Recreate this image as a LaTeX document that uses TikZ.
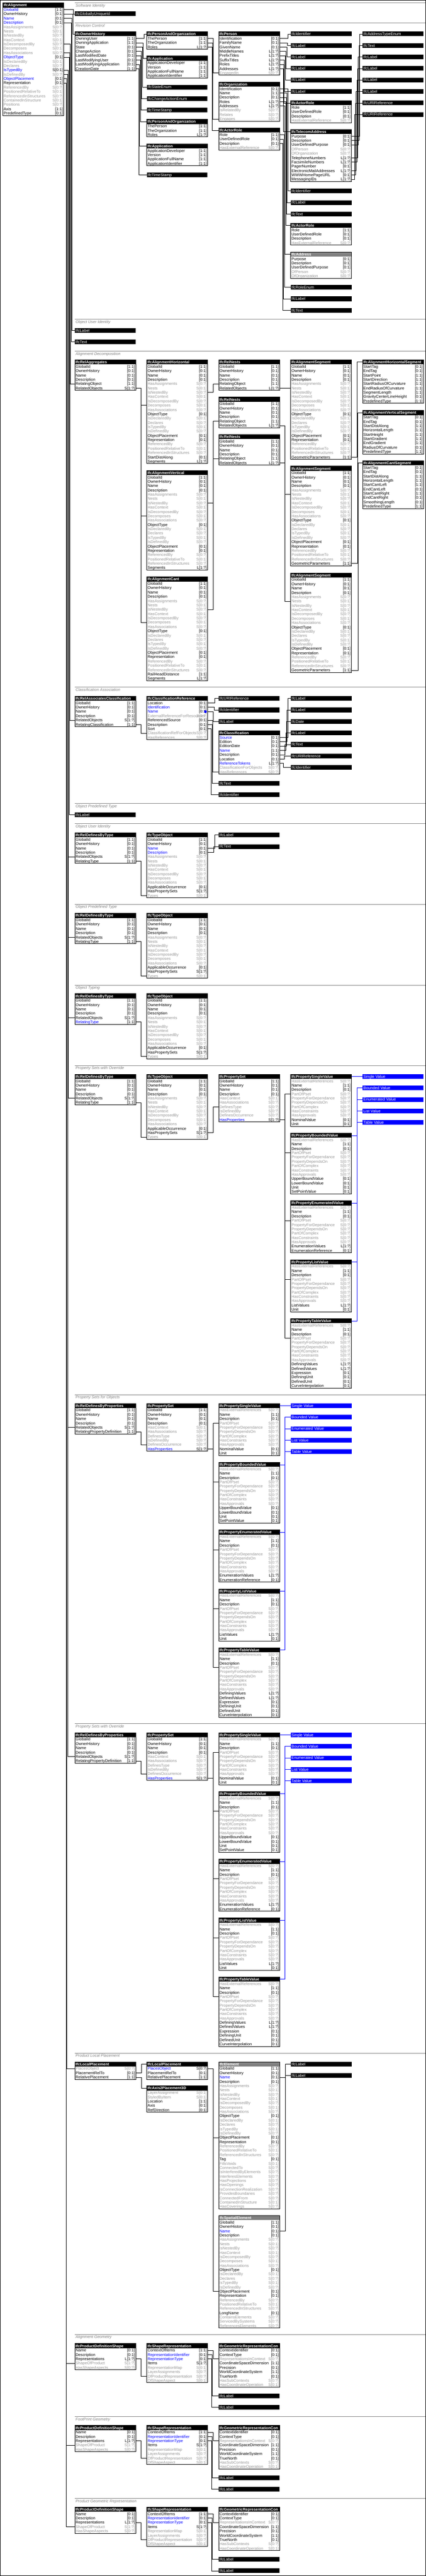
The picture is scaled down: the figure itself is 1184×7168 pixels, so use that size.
\documentclass[tikz,border=0pt]{standalone}
\usepackage{fontspec}
\setmainfont{Liberation Sans}
\definecolor{cN}{RGB}{0,0,0}
\definecolor{cG}{RGB}{150,150,150}
\definecolor{cB}{RGB}{0,0,255}
\definecolor{hG}{RGB}{128,128,128}
\definecolor{secG}{RGB}{128,128,128}
\colorlet{cardcN}{black}
\colorlet{cardcB}{black}
\colorlet{cardcG}{cG}
\tikzset{
  conn/.style={draw=black,line width=1pt},
  bconn/.style={draw=cB,line width=1pt},
  hdrbox/.style={anchor=north west,minimum width=169pt,minimum height=13pt,inner sep=0pt,outer sep=0pt,draw=none},
  rowbox/.style={anchor=north west,minimum width=169pt,minimum height=12pt,inner sep=0pt,outer sep=0pt,draw=none},
  hdrtext/.style={anchor=base west,inner sep=0pt,text=white,font=\fontsize{10.6}{12}\selectfont\bfseries},
  rowtext/.style={anchor=base west,inner sep=0pt,font=\fontsize{11}{12}\selectfont},
  cardtext/.style={anchor=base east,inner sep=0pt,font=\fontsize{11}{12}\selectfont},
  bartext/.style={anchor=base west,inner sep=0pt,text=white,font=\fontsize{11}{12}\selectfont},
  boxline/.style={draw=black,line width=1pt},
  secline/.style={draw=secG,line width=1pt},
  sectext/.style={anchor=base west,inner sep=0pt,text=secG,font=\fontsize{11}{12}\selectfont\itshape}
}
\newcommand\ebx[6]{%
  \node[hdrbox,fill=#5] (#1) at (#2,#3) {};%
  \node[hdrtext] (#1-t) at (#2+2,#3+10.5) {#4};%
  \edef\rowlist{#6}%
  \foreach \rn/\rc/\rk [count=\ri from 0] in \rowlist {%
    \edef\cc{card\rk}%
    \node[rowbox] (#1-\ri) at (#2,#3+13+12*\ri) {};%
    \node[rowtext,text=\rk] (#1-\ri-n) at (#2+2,#3+23+12*\ri) {\rn};%
    \node[cardtext,text=\cc] (#1-\ri-c) at (#2+167,#3+23+12*\ri) {\rc};%
    \xdef\lastrow{\ri}%
  }%
  \draw[boxline] (#2,#3) rectangle (#2+169,#3+25+12*\lastrow);%
}
\newcommand\tbr[5][black]{%
  \node[hdrbox,fill=#1] (#2) at (#3,#4) {};%
  \node[bartext] (#2-t) at (#3+2,#4+10.5) {#5};%
}
\newcommand\lnk[4][conn]{%
  \path (#3,0) coordinate (tx);%
  \draw[#1] (#2.east) -- (#2.east -| tx) |- (#4.west);%
}
\newcommand\bandsec[3]{%
  \draw[secline] (208,#2) -- (1184,#2);%
  \node[sectext] (#1) at (210,#2+11) {#3};%
}
\newcommand\stdA[2]{GlobalId/[1:1]/cN,OwnerHistory/[0:1]/cN,Name/[0:1]/#1,Description/[0:1]/#2,HasAssignments/S[0:?]/cG,Nests/S[0:1]/cG,IsNestedBy/S[0:?]/cG,HasContext/S[0:1]/cG,IsDecomposedBy/S[0:?]/cG,Decomposes/S[0:1]/cG,HasAssociations/S[0:?]/cG}
\newcommand\stdB{ObjectType/[0:1]/cN,IsDeclaredBy/S[0:1]/cG,Declares/S[0:?]/cG,IsTypedBy/S[0:1]/cG,IsDefinedBy/S[0:?]/cG,ObjectPlacement/[0:1]/cN,Representation/[0:1]/cN,ReferencedBy/S[0:?]/cG,PositionedRelativeTo/S[0:1]/cG,ReferencedInStructures/S[0:?]/cG}
\newcommand\relhead{GlobalId/[1:1]/cN,OwnerHistory/[0:1]/cN,Name/[0:1]/cN,Description/[0:1]/cN}
\newcommand\prophead{HasExternalReferences/S[0:?]/cG,Name/[1:1]/cN,Description/[0:1]/cN,PartOfPset/S[0:?]/cG,PropertyForDependance/S[0:?]/cG,PropertyDependsOn/S[0:?]/cG,PartOfComplex/S[0:?]/cG,HasConstraints/S[0:?]/cG,HasApprovals/S[0:?]/cG}
\newcommand\psetrows{GlobalId/[1:1]/cN,OwnerHistory/[0:1]/cN,Name/[0:1]/cN,Description/[0:1]/cN,HasContext/S[0:1]/cG,HasAssociations/S[0:?]/cG,DefinesType/S[0:?]/cG,IsDefinedBy/S[0:?]/cG,DefinesOccurrence/S[0:?]/cG,HasProperties/S[1:?]/cB}
\newcommand\typeobj[2]{GlobalId/[1:1]/cN,OwnerHistory/[0:1]/cN,Name/[0:1]/#1,Description/[0:1]/#2,HasAssignments/S[0:?]/cG,Nests/S[0:1]/cG,IsNestedBy/S[0:?]/cG,HasContext/S[0:1]/cG,IsDecomposedBy/S[0:?]/cG,Decomposes/S[0:1]/cG,HasAssociations/S[0:?]/cG,ApplicableOccurrence/[0:1]/cN,HasPropertySets/S[1:?]/cN,Types/S[0:1]/cG}
\newcommand\actorrows{Role/[1:1]/cN,UserDefinedRole/[0:1]/cN,Description/[0:1]/cN,HasExternalReference/S[0:?]/cG}
\newcommand\paorows{ThePerson/[1:1]/cN,TheOrganization/[1:1]/cN,Roles/L[1:?]/cN}
\newcommand\approws{ApplicationDeveloper/[1:1]/cN,Version/[1:1]/cN,ApplicationFullName/[1:1]/cN,ApplicationIdentifier/[1:1]/cN}
\newcommand\pgroup[5]{%
  \ebx{#1a}{#2}{#3}{IfcPropertySingleValue}{black}{\prophead,NominalValue/[0:1]/cN,Unit/[0:1]/cN}%
  \ebx{#1b}{#2}{#3+164}{IfcPropertyBoundedValue}{black}{\prophead,UpperBoundValue/[0:1]/cN,LowerBoundValue/[0:1]/cN,Unit/[0:1]/cN,SetPointValue/[0:1]/cN}%
  \ebx{#1c}{#2}{#3+352}{IfcPropertyEnumeratedValue}{black}{\prophead,EnumerationValues/L[1:?]/cN,EnumerationReference/[0:1]/cN}%
  \ebx{#1d}{#2}{#3+516}{IfcPropertyListValue}{black}{\prophead,ListValues/L[1:?]/cN,Unit/[0:1]/cN}%
  \ebx{#1e}{#2}{#3+680}{IfcPropertyTableValue}{black}{\prophead,DefiningValues/L[1:?]/cN,DefinedValues/L[1:?]/cN,Expression/[0:1]/cN,DefiningUnit/[0:1]/cN,DefinedUnit/[0:1]/cN,CurveInterpolation/[0:1]/cN}%
  \tbr[cB]{#1sa}{#2+200}{#3}{Single Value}%
  \tbr[cB]{#1sb}{#2+200}{#3+32}{Bounded Value}%
  \tbr[cB]{#1sc}{#2+200}{#3+64}{Enumerated Value}%
  \tbr[cB]{#1sd}{#2+200}{#3+96}{List Value}%
  \tbr[cB]{#1se}{#2+200}{#3+128}{Table Value}%
  \foreach \q in {a,b,c,d,e}{\lnk{#4}{#5}{#1\q-3}\lnk[bconn]{#1\q}{#2+184}{#1s\q}}%
}
\newcommand\geomsec[2]{%
  \ebx{#1p}{208}{#2}{IfcProductDefinitionShape}{black}{Name/[0:1]/cN,Description/[0:1]/cN,Representations/L[1:?]/cN,ShapeOfProduct/S[1:?]/cG,HasShapeAspects/S[0:?]/cG}%
  \ebx{#1s}{408}{#2}{IfcShapeRepresentation}{black}{ContextOfItems/[1:1]/cN,RepresentationIdentifier/[0:1]/cB,RepresentationType/[0:1]/cB,Items/S[1:?]/cN,RepresentationMap/S[0:1]/cG,LayerAssignments/S[0:?]/cG,OfProductRepresentation/S[0:?]/cG,OfShapeAspect/S[0:1]/cG}%
  \ebx{#1c}{608}{#2}{IfcGeometricRepresentationCon}{black}{ContextIdentifier/[0:1]/cN,ContextType/[0:1]/cN,RepresentationsInContext/S[0:?]/cG,CoordinateSpaceDimension/[1:1]/cN,Precision/[0:1]/cN,WorldCoordinateSystem/[1:1]/cN,TrueNorth/[0:1]/cN,HasSubContexts/S[0:?]/cG,HasCoordinateOperation/S[0:1]/cG}%
  \tbr{#1l1}{608}{#2+139}{IfcLabel}%
  \tbr{#1l2}{608}{#2+171}{IfcLabel}%
  \lnk{al-17}{184}{#1p-3}%
  \lnk{#1p-2}{392}{#1s-6}%
  \lnk{#1s-0}{592}{#1c-2}%
  \lnk{#1s-1}{590}{#1l1}%
  \lnk{#1s-2}{588}{#1l2}%
}
\begin{document}
\begin{tikzpicture}[x=1pt,y=-1pt]
\useasboundingbox (0,0) rectangle (1184,7168);
\fill[white] (0,0) rectangle (1184,7168);
% ---------------- main entity
\ebx{al}{8}{8}{IfcAlignment}{black}{GlobalId/[1:1]/cB,OwnerHistory/[0:1]/cN,Name/[0:1]/cB,Description/[0:1]/cB,HasAssignments/S[0:?]/cG,Nests/S[0:1]/cG,IsNestedBy/S[0:?]/cG,HasContext/S[0:1]/cG,IsDecomposedBy/S[0:?]/cG,Decomposes/S[0:1]/cG,HasAssociations/S[0:?]/cG,ObjectType/[0:1]/cB,IsDeclaredBy/S[0:1]/cG,Declares/S[0:?]/cG,IsTypedBy/S[0:1]/cB,IsDefinedBy/S[0:?]/cG,ObjectPlacement/[0:1]/cB,Representation/[0:1]/cN,ReferencedBy/S[0:?]/cG,PositionedRelativeTo/S[0:1]/cG,ReferencedInStructures/S[0:?]/cG,ContainedInStructure/S[0:1]/cG,Positions/S[0:?]/cG,Axis/[1:1]/cN,PredefinedType/[0:1]/cN}
% ---------------- Software Identity
\bandsec{s1}{8}{Software Identity}
\tbr{gid}{208}{32}{IfcGloballyUniqueId}
% ---------------- Revision Control
\bandsec{s2}{64}{Revision Control}
\ebx{oh}{208}{88}{IfcOwnerHistory}{black}{OwningUser/[1:1]/cN,OwningApplication/[1:1]/cN,State/[0:1]/cN,ChangeAction/[0:1]/cN,LastModifiedDate/[0:1]/cN,LastModifyingUser/[0:1]/cN,LastModifyingApplication/[0:1]/cN,CreationDate/[1:1]/cN}
\ebx{pao}{408}{88}{IfcPersonAndOrganization}{black}{\paorows}
\ebx{app}{408}{156}{IfcApplication}{black}{\approws}
\tbr{stenum}{408}{236}{IfcStateEnum}
\tbr{chenum}{408}{268}{IfcChangeActionEnum}
\tbr{tsa}{408}{300}{IfcTimeStamp}
\ebx{paob}{408}{332}{IfcPersonAndOrganization}{black}{\paorows}
\ebx{appb}{408}{400}{IfcApplication}{black}{\approws}
\tbr{tsb}{408}{480}{IfcTimeStamp}
\ebx{per}{608}{88}{IfcPerson}{black}{Identification/[0:1]/cN,FamilyName/[0:1]/cN,GivenName/[0:1]/cN,MiddleNames/L[1:?]/cN,PrefixTitles/L[1:?]/cN,SuffixTitles/L[1:?]/cN,Roles/L[1:?]/cN,Addresses/L[1:?]/cN,EngagedIn/S[0:?]/cG}
\ebx{org}{608}{228}{IfcOrganization}{black}{Identification/[0:1]/cN,Name/[1:1]/cN,Description/[0:1]/cN,Roles/L[1:?]/cN,Addresses/L[1:?]/cN,IsRelatedBy/S[0:?]/cG,Relates/S[0:?]/cG,Engages/S[0:?]/cG}
\ebx{ara}{608}{356}{IfcActorRole}{black}{\actorrows}
\tbr{pid}{808}{88}{IfcIdentifier}
\tbr{pla}{808}{120}{IfcLabel}
\tbr{plb}{808}{152}{IfcLabel}
\tbr{plc}{808}{184}{IfcLabel}
\tbr{pld}{808}{216}{IfcLabel}
\tbr{ple}{808}{248}{IfcLabel}
\ebx{arb}{808}{280}{IfcActorRole}{black}{\actorrows}
\ebx{ta}{808}{360}{IfcTelecomAddress}{black}{Purpose/[0:1]/cN,Description/[0:1]/cN,UserDefinedPurpose/[0:1]/cN,OfPerson/S[0:?]/cG,OfOrganization/S[0:?]/cG,TelephoneNumbers/L[1:?]/cN,FacsimileNumbers/L[1:?]/cN,PagerNumber/[0:1]/cN,ElectronicMailAddresses/L[1:?]/cN,WWWHomePageURL/[0:1]/cN,MessagingIDs/L[1:?]/cN}
\tbr{oid}{808}{525}{IfcIdentifier}
\tbr{olab}{808}{557}{IfcLabel}
\tbr{otxt}{808}{589}{IfcText}
\ebx{arc}{808}{621}{IfcActorRole}{black}{\actorrows}
\ebx{addr}{808}{701}{IfcAddress}{hG}{Purpose/[0:1]/cN,Description/[0:1]/cN,UserDefinedPurpose/[0:1]/cN,OfPerson/S[0:?]/cG,OfOrganization/S[0:?]/cG}
\tbr{renum}{808}{793}{IfcRoleEnum}
\tbr{rlab}{808}{825}{IfcLabel}
\tbr{rtxt}{808}{857}{IfcText}
\tbr{ate}{1008}{88}{IfcAddressTypeEnum}
\tbr{tt}{1008}{120}{IfcText}
\tbr{tla}{1008}{152}{IfcLabel}
\tbr{tlb}{1008}{184}{IfcLabel}
\tbr{tlc}{1008}{216}{IfcLabel}
\tbr{tld}{1008}{248}{IfcLabel}
\tbr{tua}{1008}{280}{IfcURIReference}
\tbr{tub}{1008}{312}{IfcURIReference}
\lnk{al-0}{204}{gid}
\lnk{al-1}{202}{oh}
\lnk{oh-0}{400}{pao}
\lnk{oh-1}{398}{app}
\lnk{oh-2}{396}{stenum}
\lnk{oh-3}{394}{chenum}
\lnk{oh-4}{392}{tsa}
\lnk{oh-5}{390}{paob}
\lnk{oh-6}{388}{appb}
\lnk{oh-7}{386}{tsb}
\lnk{pao-0}{593}{per-8}
\lnk{pao-1}{591}{org-7}
\lnk{pao-2}{589}{ara}
\lnk{per-0}{801}{pid}
\lnk{per-1}{799}{pla}
\lnk{per-2}{797}{plb}
\lnk{per-3}{795}{plc}
\lnk{per-4}{793}{pld}
\lnk{per-5}{791}{ple}
\lnk{per-6}{789}{arb}
\lnk{per-7}{787}{ta}
\lnk{org-0}{800}{oid}
\lnk{org-1}{798}{olab}
\lnk{org-2}{796}{otxt}
\lnk{org-3}{794}{arc}
\lnk{org-4}{792}{addr}
\lnk{ara-0}{790}{renum}
\lnk{ara-1}{788}{rlab}
\lnk{ara-2}{786}{rtxt}
\lnk{ta-0}{1000}{ate}
\lnk{ta-1}{998}{tt}
\lnk{ta-2}{996}{tla}
\lnk{ta-5}{994}{tlb}
\lnk{ta-6}{992}{tlc}
\lnk{ta-8}{990}{tld}
\lnk{ta-9}{988}{tua}
\lnk{ta-10}{986}{tub}
% ---------------- Object User Identity
\bandsec{s3}{888}{Object User Identity}
\tbr{ouil}{208}{913}{IfcLabel}
\tbr{ouit}{208}{945}{IfcText}
\lnk{al-2}{200}{ouil}
\lnk{al-3}{198}{ouit}
% ---------------- Alignment Decomposition
\bandsec{s4}{977}{Alignment Decomposition}
\ebx{ra}{208}{1001}{IfcRelAggregates}{black}{\relhead,RelatingObject/[1:1]/cN,RelatedObjects/S[1:?]/cN}
\ebx{ah}{408}{1001}{IfcAlignmentHorizontal}{black}{\stdA{cN}{cN},\stdB,StartDistAlong/[0:1]/cN,Segments/L[1:?]/cN}
\ebx{av}{408}{1309}{IfcAlignmentVertical}{black}{\stdA{cN}{cN},\stdB,Segments/L[1:?]/cN}
\ebx{ac}{408}{1605}{IfcAlignmentCant}{black}{\stdA{cN}{cN},\stdB,RailHeadDistance/[1:1]/cN,Segments/L[1:?]/cN}
\ebx{rna}{608}{1001}{IfcRelNests}{black}{\relhead,RelatingObject/[1:1]/cN,RelatedObjects/L[1:?]/cN}
\ebx{rnb}{608}{1105}{IfcRelNests}{black}{\relhead,RelatingObject/[1:1]/cN,RelatedObjects/L[1:?]/cN}
\ebx{rnc}{608}{1209}{IfcRelNests}{black}{\relhead,RelatingObject/[1:1]/cN,RelatedObjects/L[1:?]/cN}
\ebx{asa}{808}{1001}{IfcAlignmentSegment}{black}{\stdA{cN}{cN},\stdB,GeometricParameters/[1:1]/cN}
\ebx{asb}{808}{1297}{IfcAlignmentSegment}{black}{\stdA{cN}{cN},\stdB,GeometricParameters/[1:1]/cN}
\ebx{asc}{808}{1594}{IfcAlignmentSegment}{black}{\stdA{cN}{cN},\stdB,GeometricParameters/[1:1]/cN}
\ebx{ahs}{1008}{1001}{IfcAlignmentHorizontalSegment}{black}{StartTag/[0:1]/cN,EndTag/[0:1]/cN,StartPoint/[1:1]/cN,StartDirection/[1:1]/cN,StartRadiusOfCurvature/[1:1]/cN,EndRadiusOfCurvature/[1:1]/cN,SegmentLength/[1:1]/cN,GravityCenterLineHeight/[0:1]/cN,PredefinedType/[1:1]/cN}
\ebx{avs}{1008}{1142}{IfcAlignmentVerticalSegment}{black}{StartTag/[0:1]/cN,EndTag/[0:1]/cN,StartDistAlong/[1:1]/cN,HorizontalLength/[1:1]/cN,StartHeight/[1:1]/cN,StartGradient/[1:1]/cN,EndGradient/[1:1]/cN,RadiusOfCurvature/[0:1]/cN,PredefinedType/[1:1]/cN}
\ebx{acs}{1008}{1282}{IfcAlignmentCantSegment}{black}{StartTag/[0:1]/cN,EndTag/[0:1]/cN,StartDistAlong/[1:1]/cN,HorizontalLength/[1:1]/cN,StartCantLeft/[1:1]/cN,EndCantLeft/[0:1]/cN,StartCantRight/[1:1]/cN,EndCantRight/[0:1]/cN,SmoothingLength/[0:1]/cN,PredefinedType/[1:1]/cN}
\lnk{al-8}{196}{ra-4}
\lnk{ra-5}{392}{ah-9}
\lnk{ra-5}{392}{av-9}
\lnk{ra-5}{392}{ac-9}
\lnk{ah-6}{592}{rna-4}
\lnk{av-6}{592}{rnb-4}
\lnk{ac-6}{592}{rnc-4}
\lnk{rna-5}{792}{asa-5}
\lnk{rnb-5}{792}{asb-5}
\lnk{rnc-5}{792}{asc-5}
\lnk{asa-21}{992}{ahs}
\lnk{asb-21}{994}{avs}
\lnk{asc-21}{996}{acs}
% ---------------- Classification Association
\bandsec{s5}{1912}{Classification Association}
\ebx{rac}{208}{1937}{IfcRelAssociatesClassification}{black}{\relhead,RelatedObjects/S[1:?]/cN,RelatingClassification/[1:1]/cN}
\ebx{cr}{408}{1937}{IfcClassificationReference}{black}{Location/[0:1]/cN,Identification/[0:1]/cB,Name/[0:1]/cB,ExternalReferenceForResources/S[0:?]/cG,ReferencedSource/[0:1]/cN,Description/[0:1]/cN,Sort/[0:1]/cN,ClassificationRefForObjects/S[0:?]/cG,HasReferences/S[0:?]/cG}
\node[circle,fill=cB,minimum size=8pt,inner sep=0pt] (dot) at (571,1980) {};
\tbr{cu}{608}{1937}{IfcURIReference}
\tbr{ci}{608}{1969}{IfcIdentifier}
\tbr{cl}{608}{2001}{IfcLabel}
\ebx{cls}{608}{2033}{IfcClassification}{black}{Source/[0:1]/cB,Edition/[0:1]/cN,EditionDate/[0:1]/cN,Name/[1:1]/cB,Description/[0:1]/cN,Location/[0:1]/cN,ReferenceTokens/L[1:?]/cB,ClassificationForObjects/S[0:?]/cG,HasReferences/S[0:?]/cG}
\tbr{ctx}{608}{2173}{IfcText}
\tbr{cib}{608}{2205}{IfcIdentifier}
\tbr{k1}{808}{1937}{IfcLabel}
\tbr{k2}{808}{1969}{IfcLabel}
\tbr{k3}{808}{2001}{IfcDate}
\tbr{k4}{808}{2033}{IfcLabel}
\tbr{k5}{808}{2065}{IfcText}
\tbr{k6}{808}{2097}{IfcURIReference}
\tbr{k7}{808}{2129}{IfcIdentifier}
\lnk{al-10}{194}{rac-4}
\lnk{rac-5}{392}{cr-7}
\lnk{cr-0}{597}{cu}
\lnk{cr-1}{595}{ci}
\lnk{cr-2}{593}{cl}
\lnk{cr-4}{591}{cls-8}
\lnk{cr-5}{589}{ctx}
\lnk{cr-6}{587}{cib}
\lnk{cls-0}{800}{k1}
\lnk{cls-1}{798}{k2}
\lnk{cls-2}{796}{k3}
\lnk{cls-3}{794}{k4}
\lnk{cls-4}{792}{k5}
\lnk{cls-5}{790}{k6}
\lnk{cls-6}{788}{k7}
% ---------------- Object Predefined Type
\bandsec{s6}{2236}{Object Predefined Type}
\tbr{optl}{208}{2261}{IfcLabel}
\lnk{al-11}{192}{optl}
% ---------------- Object User Identity (type)
\bandsec{s7}{2292}{Object User Identity}
\ebx{rdta}{208}{2317}{IfcRelDefinesByType}{black}{\relhead,RelatedObjects/S[1:?]/cN,RelatingType/[1:1]/cN}
\ebx{toa}{408}{2317}{IfcTypeObject}{black}{\typeobj{cB}{cB}}
\tbr{tol}{608}{2317}{IfcLabel}
\tbr{tot}{608}{2349}{IfcText}
\lnk{al-14}{190}{rdta-4}
\lnk{rdta-5}{392}{toa-13}
\lnk{toa-2}{597}{tol}
\lnk{toa-3}{594}{tot}
% ---------------- Object Predefined Type (type)
\bandsec{s8}{2516}{Object Predefined Type}
\ebx{rdtb}{208}{2541}{IfcRelDefinesByType}{black}{\relhead,RelatedObjects/S[1:?]/cN,RelatingType/[1:1]/cN}
\ebx{tob}{408}{2541}{IfcTypeObject}{black}{\typeobj{cN}{cN}}
\lnk{al-14}{190}{rdtb-4}
\lnk{rdtb-5}{392}{tob-13}
% ---------------- Object Typing
\bandsec{s9}{2741}{Object Typing}
\ebx{rdtc}{208}{2765}{IfcRelDefinesByType}{black}{\relhead,RelatedObjects/S[1:?]/cN,RelatingType/[1:1]/cB}
\ebx{toc}{408}{2765}{IfcTypeObject}{black}{\typeobj{cN}{cN}}
\lnk{al-14}{190}{rdtc-4}
\lnk{rdtc-5}{392}{toc-13}
% ---------------- Property Sets with Override (type)
\bandsec{s10}{2965}{Property Sets with Override}
\ebx{rdtd}{208}{2989}{IfcRelDefinesByType}{black}{\relhead,RelatedObjects/S[1:?]/cN,RelatingType/[1:1]/cN}
\ebx{tod}{408}{2989}{IfcTypeObject}{black}{\typeobj{cN}{cN}}
\ebx{psa}{608}{2989}{IfcPropertySet}{black}{\psetrows}
\lnk{al-14}{190}{rdtd-4}
\lnk{rdtd-5}{392}{tod-13}
\lnk{tod-12}{592}{psa-6}
\pgroup{pva}{808}{2989}{psa-9}{792}
% ---------------- Property Sets for Objects
\bandsec{s11}{3881}{Property Sets for Objects}
\ebx{rdpa}{208}{3905}{IfcRelDefinesByProperties}{black}{\relhead,RelatedObjects/S[1:?]/cN,RelatingPropertyDefinition/[1:1]/cN}
\ebx{psb}{408}{3905}{IfcPropertySet}{black}{\psetrows}
\lnk{al-15}{188}{rdpa-4}
\lnk{rdpa-5}{392}{psb-8}
\pgroup{pvb}{608}{3905}{psb-9}{592}
% ---------------- Property Sets with Override (objects)
\bandsec{s12}{4796}{Property Sets with Override}
\ebx{rdpb}{208}{4821}{IfcRelDefinesByProperties}{black}{\relhead,RelatedObjects/S[1:?]/cN,RelatingPropertyDefinition/[1:1]/cN}
\ebx{psc}{408}{4821}{IfcPropertySet}{black}{\psetrows}
\lnk{al-15}{188}{rdpb-4}
\lnk{rdpb-5}{392}{psc-8}
\pgroup{pvc}{608}{4821}{psc-9}{592}
% ---------------- Product Local Placement
\bandsec{s13}{5713}{Product Local Placement}
\ebx{lpa}{208}{5737}{IfcLocalPlacement}{black}{PlacesObject/S[0:?]/cG,PlacementRelTo/[0:1]/cN,RelativePlacement/[1:1]/cN}
\ebx{lpb}{408}{5737}{IfcLocalPlacement}{black}{PlacesObject/S[0:?]/cB,PlacementRelTo/[0:1]/cN,RelativePlacement/[1:1]/cN}
\ebx{a2p}{408}{5804}{IfcAxis2Placement3D}{black}{LayerAssignment/S[0:1]/cG,StyledByItem/S[0:1]/cG,Location/[1:1]/cN,Axis/[0:1]/cN,RefDirection/[0:1]/cN}
\ebx{el}{608}{5737}{IfcElement}{hG}{\stdA{cB}{cN},\stdB,Tag/[0:1]/cN,FillsVoids/S[0:1]/cG,ConnectedTo/S[0:?]/cG,IsInterferedByElements/S[0:?]/cG,InterferesElements/S[0:?]/cG,HasProjections/S[0:?]/cG,HasOpenings/S[0:?]/cG,IsConnectionRealization/S[0:?]/cG,ProvidesBoundaries/S[0:?]/cG,ConnectedFrom/S[0:?]/cG,ContainedInStructure/S[0:1]/cG,HasCoverings/S[0:?]/cG}
\ebx{sel}{608}{6165}{IfcSpatialElement}{hG}{\stdA{cB}{cN},\stdB,LongName/[0:1]/cN,ContainsElements/S[0:?]/cG,ServicedBySystems/S[0:?]/cG,ReferencesElements/S[0:?]/cG}
\tbr{ella}{808}{5737}{IfcLabel}
\tbr{ellb}{808}{5769}{IfcLabel}
\lnk{al-16}{186}{lpa-0}
\lnk{lpa-1}{393}{lpb}
\lnk{lpa-2}{393}{a2p}
\lnk{lpb-0}{592}{el-16}
\lnk{lpb-0}{592}{sel-16}
\lnk{el-2}{793}{ella}
\lnk{sel-2}{793}{ellb}
% ---------------- Geometry
\bandsec{s14}{6496}{Alignment Geometry}
\geomsec{ga}{6521}
\bandsec{s15}{6724}{FootPrint Geometry}
\geomsec{gb}{6749}
\node[bartext,anchor=base east] (fpt) at (975,6898.5) {FootPrint};
\bandsec{s16}{6952}{Product Geometric Representation}
\geomsec{gc}{6976}
% ---------------- frame
\draw[line width=1pt] (0.5,0.5) rectangle (1183.5,7167.5);
\end{tikzpicture}
\end{document}
